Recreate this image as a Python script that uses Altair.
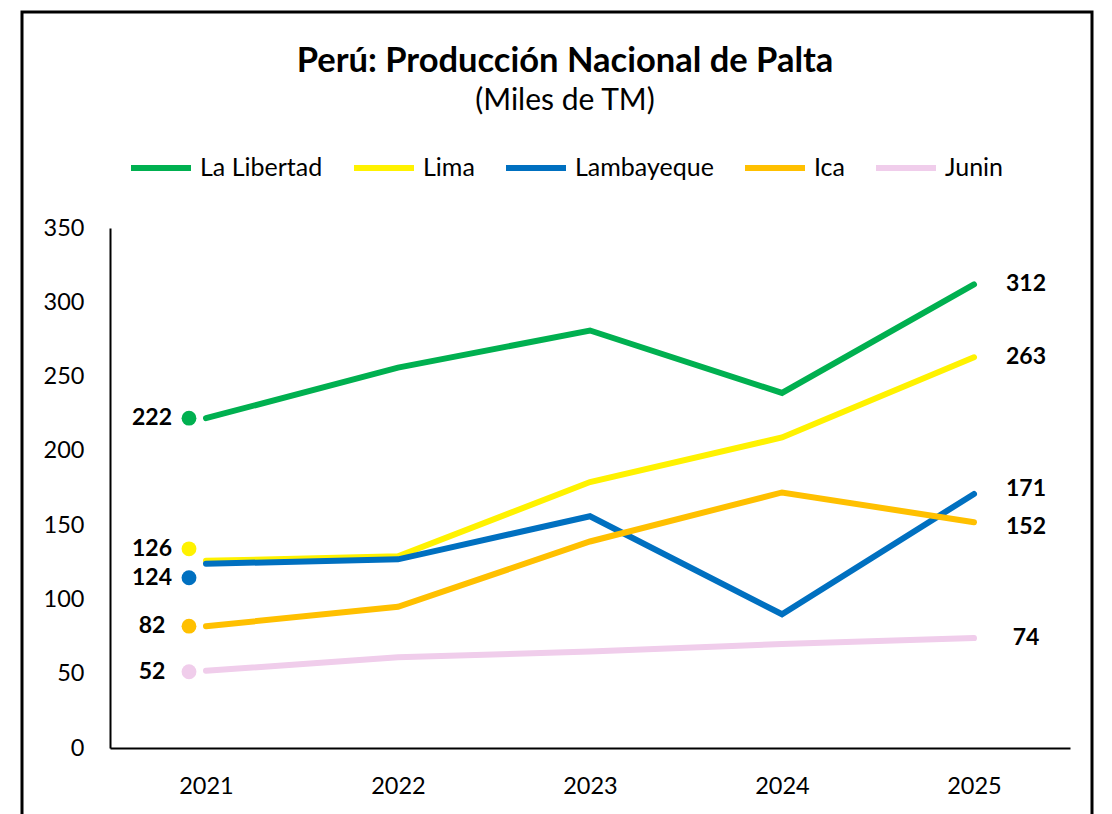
import altair as alt
import pandas as pd

years = ["2021", "2022", "2023", "2024", "2025"]
series_names = ["La Libertad", "Lima", "Lambayeque", "Ica", "Junin"]
la_libertad = [222, 256, 281, 239, 312]
lima = [126, 129, 179, 209, 263]
lambayeque = [124, 127, 156, 90, 171]
ica = [82, 95, 139, 172, 152]
junin = [52, 61, 65, 70, 74]
colors = ["#00B050", "#FFF200", "#0070C0", "#FFC000", "#F0CDEB"]

values = [la_libertad, lima, lambayeque, ica, junin]
rows = []
for name, vals in zip(series_names, values):
    for y, v in zip(years, vals):
        rows.append({"Año": y, "Serie": name, "Valor": v})
df = pd.DataFrame(rows)

FONT = "Lato"
x_enc = alt.X("Año:O", scale=alt.Scale(type="point", padding=0.5),
              axis=alt.Axis(title=None, labelAngle=0))
y_enc = alt.Y("Valor:Q", scale=alt.Scale(domain=[0, 350]),
              axis=alt.Axis(title=None, values=list(range(0, 351, 50))))
color_enc = alt.Color("Serie:N",
                      scale=alt.Scale(domain=series_names, range=colors),
                      sort=series_names,
                      legend=alt.Legend(title=None, orient="none", direction="horizontal",
                                        legendX=18, legendY=-93,
                                        symbolType="stroke", symbolSize=3600,
                                        symbolStrokeWidth=6, labelFontSize=25,
                                        labelFont=FONT, labelColor="black",
                                        columnPadding=19, labelOffset=6))

base = alt.Chart(df)
lines = base.mark_line(strokeWidth=6, strokeCap="round").encode(
    x=x_enc, y=y_enc, color=color_enc, order=alt.Order("Serie:N"))

frame = alt.Chart(pd.DataFrame({"a": [0]})).mark_rect(
    fill=None, stroke="black", strokeWidth=3).encode(
    x=alt.value(-88), x2=alt.value(982), y=alt.value(-216), y2=alt.value(600))

# label offsets (pixels) for start/end labels
start_dy = {"La Libertad": 0, "Lima": -12, "Lambayeque": 14, "Ica": 0, "Junin": 1}
end_dy = {"La Libertad": 0, "Lima": 0, "Lambayeque": -5, "Ica": 5, "Junin": 0}

layers = [frame, lines]
for name, col in zip(series_names, colors):
    d0 = df[(df["Serie"] == name) & (df["Año"] == years[0])]
    d1 = df[(df["Serie"] == name) & (df["Año"] == years[-1])]
    layers.append(alt.Chart(d0).mark_circle(size=220, opacity=1, color=col,
                                           xOffset=-17, yOffset=start_dy[name]).encode(
        x=x_enc, y=y_enc))
    layers.append(alt.Chart(d0).mark_text(font=FONT, fontSize=23, fontWeight="bold",
                                         color="black", dx=-54, dy=start_dy[name]).encode(
        x=x_enc, y=y_enc, text=alt.Text("Valor:Q")))
    layers.append(alt.Chart(d1).mark_text(font=FONT, fontSize=23, fontWeight="bold",
                                         color="black", dx=52, dy=end_dy[name]).encode(
        x=x_enc, y=y_enc, text=alt.Text("Valor:Q")))

chart = alt.layer(*layers).properties(
    width=960, height=520,
    autosize=alt.AutoSizeParams(type="none"),
    padding={"left": 102, "top": 220, "right": 34, "bottom": 70},
    title=alt.TitleParams(
        text="Perú: Producción Nacional de Palta",
        subtitle="(Miles de TM)",
        font=FONT, fontSize=34.5, fontWeight="bold", color="black",
        subtitleFont=FONT, subtitleFontSize=30, subtitleColor="black",
        anchor="middle", dx=-25, offset=-106, subtitlePadding=6),
).configure_view(stroke=None).configure_axis(
    domainColor="black", domainWidth=2, ticks=False, grid=False,
    labelFont=FONT, labelFontSize=23.5, labelColor="black",
).configure_axisY(labelPadding=26).configure_axisX(labelPadding=26)

chart.save("out.html", embed_options={"renderer": "svg", "actions": False})
